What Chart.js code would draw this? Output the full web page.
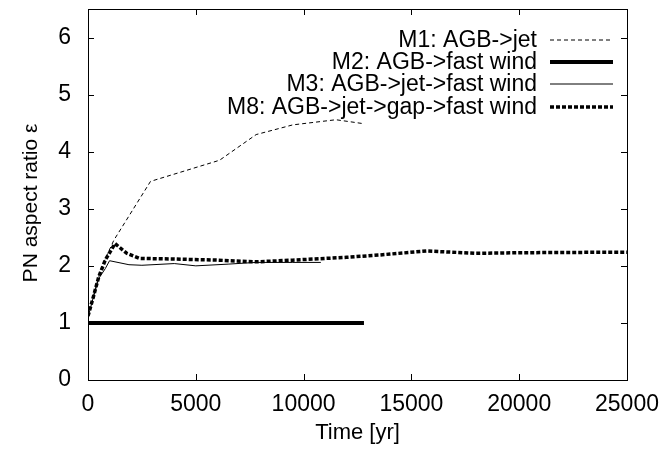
<!DOCTYPE html>
<html>
<head>
<meta charset="utf-8">
<script src="https://cdn.jsdelivr.net/npm/chart.js@4.4.1/dist/chart.umd.min.js"></script>
<style>
  html, body { margin: 0; padding: 0; background: #fff; }
  #wrap { width: 663px; height: 451px; }
</style>
</head>
<body>
<div id="wrap"><canvas id="chart" width="663" height="451"></canvas></div>
<script>
// values
const xTicks = [0, 5000, 10000, 15000, 20000, 25000];
const yTicks = [0, 1, 2, 3, 4, 5, 6];

const m1Time  = [0, 250, 500, 800, 1200, 2900, 6100, 7800, 9500, 11500, 12800];
const m1Ratio = [1.1, 1.47, 1.82, 2.12, 2.45, 3.48, 3.85, 4.3, 4.47, 4.56, 4.49];

const m2Time  = [0, 12800];
const m2Ratio = [1, 1];

const m3Time  = [0, 250, 500, 800, 1000, 1900, 2500, 4000, 5000, 6500, 7800, 9500, 10800];
const m3Ratio = [1.1, 1.45, 1.78, 1.95, 2.09, 2.02, 2.01, 2.04, 2.0, 2.03, 2.06, 2.06, 2.06];

const m8Time  = [0, 250, 500, 800, 1250, 1800, 2400, 4000, 6000, 7800, 9500, 12000, 13500, 15700, 18000, 20000, 25000];
const m8Ratio = [1.12, 1.46, 1.81, 2.1, 2.39, 2.22, 2.13, 2.12, 2.1, 2.07, 2.1, 2.15, 2.19, 2.26, 2.22, 2.23, 2.24];

const labels = ['M1: AGB->jet', 'M2: AGB->fast wind', 'M3: AGB->jet->fast wind', 'M8: AGB->jet->gap->fast wind'];
const yTitle = 'PN aspect ratio ε';

function pts(xs, ys) {
    return xs.map((x, i) => ({ x: x, y: ys[i] }));
}

const FONT = 'Liberation Sans, Arial, Helvetica, sans-serif';

// gnuplot style frame: box round the plot and ticks pointing inward on all sides
const framePlugin = {
    id: 'frame',
    afterDraw(chart) {
        const ctx = chart.ctx;
        const a = chart.chartArea;
        const xs = chart.scales.x, ys = chart.scales.y;
        ctx.save();
        ctx.strokeStyle = '#000';
        ctx.lineWidth = 1;
        ctx.strokeRect(Math.round(a.left) + 0.5, Math.round(a.top) + 0.5,
            Math.round(a.right - a.left), Math.round(a.bottom - a.top));
        ctx.beginPath();
        xTicks.forEach(v => {
            const px = Math.round(xs.getPixelForValue(v)) + 0.5;
            ctx.moveTo(px, a.bottom); ctx.lineTo(px, a.bottom - 6);
            ctx.moveTo(px, a.top); ctx.lineTo(px, a.top + 6);
        });
        yTicks.forEach(v => {
            const py = Math.round(ys.getPixelForValue(v)) + 0.5;
            ctx.moveTo(a.left, py); ctx.lineTo(a.left + 6, py);
            ctx.moveTo(a.right, py); ctx.lineTo(a.right - 6, py);
        });
        ctx.stroke();

        // y axis title, sitting a little below the middle like gnuplot puts it
        ctx.translate(31, 203);
        ctx.rotate(-Math.PI / 2);
        ctx.font = '21px ' + FONT;
        ctx.fillStyle = '#000';
        ctx.textAlign = 'center';
        ctx.textBaseline = 'middle';
        ctx.fillText(yTitle, 0, 0);
        ctx.restore();
    }
};

// legend in the top right corner: text right aligned, line sample after it
const legendPlugin = {
    id: 'rightLegend',
    afterDraw(chart) {
        const ctx = chart.ctx;
        const rows = [40, 62, 84, 107];
        ctx.save();
        ctx.font = '23px ' + FONT;
        ctx.fillStyle = '#000';
        ctx.textAlign = 'right';
        ctx.textBaseline = 'middle';
        chart.data.datasets.forEach((ds, i) => {
            const y = rows[i];
            ctx.fillText(ds.label, 537, y + 1);
            ctx.beginPath();
            ctx.strokeStyle = ds.borderColor;
            ctx.lineWidth = ds.borderWidth;
            ctx.setLineDash(ds.borderDash || []);
            ctx.moveTo(550, y);
            ctx.lineTo(613, y);
            ctx.stroke();
        });
        ctx.restore();
    }
};

new Chart(document.getElementById('chart').getContext('2d'), {
    type: 'line',
    data: {
        datasets: [
            { label: labels[0], data: pts(m1Time, m1Ratio), borderColor: '#000', borderWidth: 1, borderDash: [4, 3] },
            { label: labels[1], data: pts(m2Time, m2Ratio), borderColor: '#000', borderWidth: 4, borderDash: [] },
            { label: labels[2], data: pts(m3Time, m3Ratio), borderColor: '#000', borderWidth: 1, borderDash: [] },
            { label: labels[3], data: pts(m8Time, m8Ratio), borderColor: '#000', borderWidth: 3.5, borderDash: [4, 2] }
        ]
    },
    options: {
        responsive: false,
        animation: false,
        elements: { point: { radius: 0 }, line: { tension: 0, borderCapStyle: 'butt' } },
        layout: { padding: { top: 9, right: 36, left: 0, bottom: 0 } },
        plugins: {
            legend: { display: false },
            tooltip: { enabled: false }
        },
        scales: {
            x: {
                type: 'linear',
                min: 0,
                max: 25000,
                afterFit: s => { s.height = 71; s.paddingLeft = 0; s.paddingRight = 0; },
                afterBuildTicks: s => { s.ticks = xTicks.map(v => ({ value: v })); },
                ticks: { color: '#000', font: { family: FONT, size: 23 }, padding: 11, maxRotation: 0, callback: v => String(v) },
                grid: { display: false, drawTicks: false },
                border: { display: false },
                title: { display: true, text: 'Time [yr]', color: '#000', font: { family: FONT, size: 22 }, padding: { top: 0, bottom: 5 } }
            },
            y: {
                type: 'linear',
                min: 0,
                max: 6.5,
                afterFit: s => { s.width = 88; s.paddingTop = 0; s.paddingBottom = 0; },
                afterBuildTicks: s => { s.ticks = yTicks.map(v => ({ value: v })); },
                ticks: { color: '#000', font: { family: FONT, size: 23 }, padding: 17, callback: v => String(v) },
                grid: { display: false, drawTicks: false },
                border: { display: false },
                title: { display: false }
            }
        }
    },
    plugins: [framePlugin, legendPlugin]
});
</script>
</body>
</html>
